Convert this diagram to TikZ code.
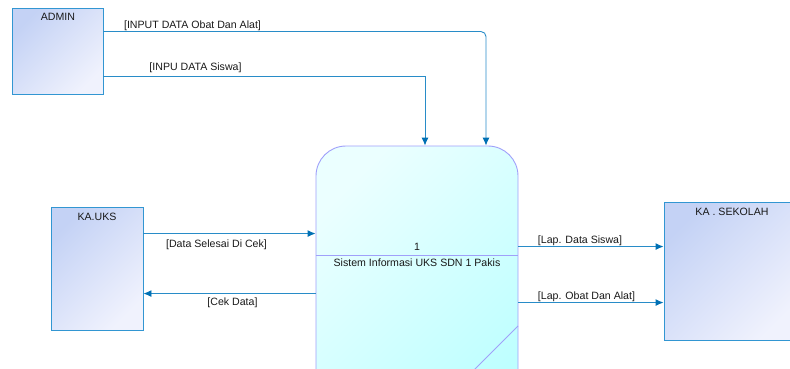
\documentclass[tikz,border=0pt]{standalone}
\usepackage{fontspec}
\setmainfont{Liberation Sans}
\usetikzlibrary{arrows.meta}

\definecolor{flowline}{RGB}{40,140,200}
\definecolor{flowhead}{RGB}{0,112,180}
\definecolor{entborder}{RGB}{50,150,210}
\definecolor{entdark}{RGB}{196,210,245}
\definecolor{entlight}{RGB}{240,242,253}
\definecolor{procborder}{RGB}{160,160,250}
\definecolor{procdark}{RGB}{190,255,255}
\definecolor{proclight}{RGB}{235,255,255}
\definecolor{txt}{RGB}{25,25,25}

\tikzset{
  entity/.style={draw=entborder, line width=0.9pt, rectangle, inner sep=0pt,
    top color=entdark, bottom color=entlight, shading angle=45},
  process/.style={draw=procborder, line width=0.9pt, rectangle, inner sep=0pt,
    rounded corners=30pt, top color=proclight, bottom color=procdark, shading angle=45},
  flow/.style={draw=flowline, line width=0.9pt,
    -{Latex[length=8pt,width=7pt,color=flowhead]}},
  lbl/.style={inner sep=0pt, text=txt, font=\fontsize{10.6}{12}\selectfont},
}

\begin{document}
\begin{tikzpicture}[x=1pt,y=-1pt]
  \useasboundingbox (0,0) rectangle (790,369);
  \clip (0,0) rectangle (790,369);

  % external entities
  \node[entity, minimum width=91pt, minimum height=86pt] (admin) at (57.5,51.5) {};
  \node[lbl] (adminname) at (58,17) {ADMIN};
  \node[entity, minimum width=92pt, minimum height=123pt] (kauks) at (97,268.5) {};
  \node[lbl] (kauksname) at (97,217) {KA.UKS};
  \node[entity, minimum width=136pt, minimum height=138pt] (sekolah) at (732,271) {};
  \node[lbl] (sekolahname) at (732,212) {KA . SEKOLAH};

  % process
  \node[process, minimum width=202pt, minimum height=280pt] (proc) at (417,286) {};
  \draw[procborder, line width=0.9pt] (proc.west |- 0,255) -- (proc.east |- 0,255);
  \draw[procborder, line width=0.9pt] (518,326) -- (473,371);
  \node[lbl] (procid) at (417,247) {1};
  \node[lbl] (procname) at (417,263) {Sistem Informasi UKS SDN 1 Pakis};

  % flows from ADMIN
  \draw[flow, rounded corners=5pt] ([yshift=-23.5pt]admin.north east) -| ([xshift=69pt]proc.north);
  \draw[flow] ([yshift=-68pt]admin.north east) -| ([xshift=8pt]proc.north);
  \node[lbl] (f1) at (192.5,26) {[INPUT DATA Obat Dan Alat]};
  \node[lbl] (f2) at (195.5,67.5) {[INPU DATA Siswa]};

  % flows with KA.UKS
  \coordinate (u1) at ([yshift=-27pt]kauks.north east);
  \coordinate (u2) at ([yshift=-87pt]kauks.north east);
  \draw[flow] (u1) -- (u1 -| proc.west);
  \draw[flow] (u2 -| proc.west) -- (u2);
  \node[lbl] (f3) at (216.5,244.5) {[Data Selesai  Di Cek]};
  \node[lbl] (f4) at (232.5,303) {[Cek  Data]};

  % flows to KA. SEKOLAH
  \coordinate (s1) at ([yshift=-45pt]sekolah.north west);
  \coordinate (s2) at ([yshift=-101pt]sekolah.north west);
  \draw[flow] (s1 -| proc.east) -- (s1);
  \draw[flow] (s2 -| proc.east) -- (s2);
  \node[lbl] (f5) at (580,240.5) {[Lap. Data Siswa]};
  \node[lbl] (f6) at (586.5,297) {[Lap. Obat Dan Alat]};
\end{tikzpicture}
\end{document}
